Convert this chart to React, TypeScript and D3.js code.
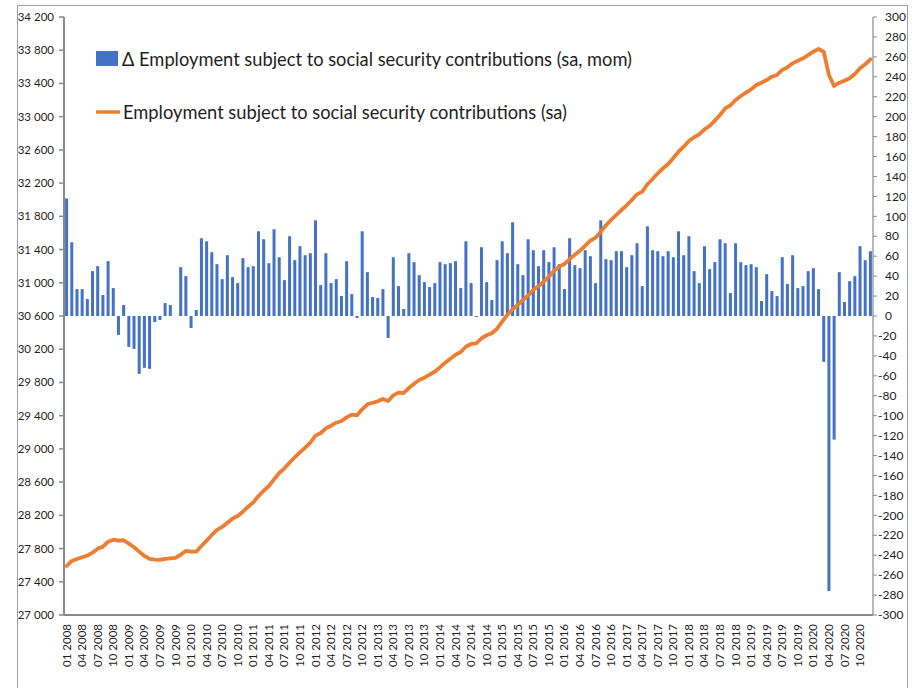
import React from "react";
import * as d3 from "d3";

// ---------- DATA ----------
const startYear = 2008;
const nMonths = 156; // 01 2008 .. 12 2020
const months: string[] = Array.from({ length: nMonths }, (_, i) => {
  const m = (i % 12) + 1;
  const y = startYear + Math.floor(i / 12);
  return `${m < 10 ? "0" + m : m} ${y}`;
});

// Δ Employment (sa, mom), thousands – right axis
const deltaEmployment: number[] = [
  118, 74, 27, 27, 17, 45, 50, 21, 55, 28, -19, 11, -31, -33, -58, -52, -53, -6, -4, 13,
  11, 0, 49, 40, -12, 6, 78, 75, 64, 52, 37, 61, 39, 33, 58, 49, 50, 85, 77, 53,
  87, 59, 36, 80, 56, 70, 61, 63, 96, 31, 63, 33, 37, 20, 55, 22, -2,
  85, 44, 19, 18, 27, -22, 59, 30, 7, 63, 54, 41, 34, 29, 33, 54, 52, 53, 55, 28,
  75, 33, -1, 69, 34, 16, 56, 75, 63, 94, 52, 41, 77, 66, 50, 66, 54, 69, 52, 27,
  78, 51, 48, 66, 60, 33, 96, 57, 56, 65, 65, 49, 61, 73,
  30, 90, 66, 65, 60, 65, 59, 85, 61, 80, 45, 33, 70, 47, 54, 77, 73, 23, 73, 54,
  51, 52, 49, 15, 42, 25, 20, 59, 32, 61, 28, 30, 45, 48, 27, -46, -276, -124, 44, 14,
  35, 40, 70, 56, 65,
];

// Employment subject to social security contributions (sa), thousands – left axis
const employment: number[] = [
  27590, 27651, 27675, 27695, 27715, 27751, 27799, 27823, 27883, 27907,
  27895, 27900, 27859, 27816, 27763, 27711, 27675, 27667, 27663, 27675,
  27683, 27687, 27727, 27771, 27763, 27763, 27831, 27895, 27964, 28024,
  28060, 28111, 28160, 28192, 28244, 28304, 28356, 28432, 28496, 28553,
  28633, 28710,
  28766, 28834, 28899, 28959, 29015, 29075, 29159, 29191, 29248, 29279,
  29315, 29336, 29380, 29412, 29404, 29477, 29537, 29556, 29573, 29601,
  29577, 29645, 29677, 29673, 29733, 29785, 29829, 29857, 29893, 29929,
  29982, 30038, 30086, 30134, 30167, 30230, 30263, 30271, 30332, 30368,
  30392, 30447, 30532, 30615,
  30681, 30732, 30793, 30849, 30913, 30961, 31013, 31073, 31145, 31194,
  31226, 31286, 31338, 31386, 31446, 31507, 31543, 31615, 31692, 31756,
  31816, 31876, 31933, 31997, 32065, 32097, 32186, 32250, 32318, 32378,
  32430, 32502, 32578, 32638, 32707, 32752, 32788, 32848, 32888, 32952,
  33020, 33100, 33135,
  33201, 33249, 33289, 33329, 33381, 33409, 33441, 33481, 33502, 33562,
  33594, 33642, 33674, 33703, 33742, 33782, 33815, 33782, 33502, 33369,
  33409, 33433, 33462, 33514, 33582, 33630, 33691,
];

const leftTicks: number[] = d3.range(27000, 34201, 400);
const rightTicks: number[] = d3.range(-300, 301, 20);
const xTickLabels: string[] = months.filter((_, i) => i % 3 === 0);

const legendBar = "Δ Employment subject to social security contributions (sa, mom)";
const legendLine = "Employment subject to social security contributions (sa)";

// ---------- LAYOUT ----------
const W = 912;
const H = 688;
const plotLeft = 64;
const plotRight = 873;
const plotTop = 17;
const plotBottom = 615;

const BLUE = "#4472C4";
const ORANGE = "#ED7D31";
const AXIS = "#8a8a8a";
const TEXT = "#1e1e1e";
const FONT = "Lato, 'Liberation Sans', sans-serif";

const fmtSpace = d3.formatLocale({
  decimal: ".",
  thousands: " ",
  grouping: [3],
  currency: ["", ""],
}).format(",");

export default function App() {
  const x = d3.scaleBand<string>().domain(months).range([plotLeft, plotRight]).padding(0);
  const yL = d3.scaleLinear().domain([27000, 34200]).range([plotBottom, plotTop]);
  const yR = d3.scaleLinear().domain([-300, 300]).range([plotBottom, plotTop]);
  const bw = x.bandwidth() * 0.58;
  const cx = (m: string) => (x(m) as number) + x.bandwidth() / 2;

  const linePath = d3
    .line<number>()
    .x((_, i) => cx(months[i]))
    .y((d) => yL(d))
    .curve(d3.curveLinear)(employment) as string;

  return (
    <svg
      width={W}
      height={H}
      style={{ position: "absolute", left: 0, top: 0, background: "#fff" }}
      fontFamily={FONT}
    >
      <rect x={0} y={0} width={W} height={H} fill="#fff" />
      <rect x={17.5} y={5.5} width={890} height={720} fill="none" stroke="#a0a0a0" strokeWidth={1} />

      {/* bars */}
      <g>
        {deltaEmployment.map((v, i) => {
          const y0 = yR(0);
          const y1 = yR(v);
          return (
            <rect
              key={i}
              x={cx(months[i]) - bw / 2}
              y={Math.min(y0, y1)}
              width={bw}
              height={Math.abs(y1 - y0)}
              fill={BLUE}
            />
          );
        })}
      </g>

      {/* line */}
      <path d={linePath} fill="none" stroke={ORANGE} strokeWidth={3.8} strokeLinejoin="round" strokeLinecap="round" />

      {/* left axis */}
      <line x1={plotLeft} x2={plotLeft} y1={plotTop} y2={plotBottom} stroke={AXIS} strokeWidth={2} />
      {leftTicks.map((t) => (
        <g key={t}>
          <line x1={plotLeft - 5} x2={plotLeft} y1={yL(t)} y2={yL(t)} stroke={AXIS} strokeWidth={1.5} />
          <text x={54} y={yL(t)} dy="0.35em" textAnchor="end" fontSize={11.5} fill={TEXT}>
            {fmtSpace(t)}
          </text>
        </g>
      ))}

      {/* right axis */}
      <line x1={plotRight} x2={plotRight} y1={plotTop} y2={plotBottom} stroke={AXIS} strokeWidth={1.2} />
      {rightTicks.map((t) => (
        <g key={t}>
          <line x1={plotRight} x2={plotRight + 4} y1={yR(t)} y2={yR(t)} stroke={AXIS} strokeWidth={1} />
          <text x={t < 0 ? 878 : 885} y={yR(t)} dy="0.35em" textAnchor="start" fontSize={12} fill={TEXT}>
            {String(t)}
          </text>
        </g>
      ))}

      {/* bottom axis */}
      <line x1={plotLeft} x2={plotRight} y1={plotBottom} y2={plotBottom} stroke={AXIS} strokeWidth={2.2} />
      {xTickLabels.map((m) => (
        <text
          key={m}
          transform={`translate(${cx(m)},${624}) rotate(-90)`}
          textAnchor="end"
          dy="0.35em"
          fontSize={11.5}
          fill={TEXT}
        >
          {m}
        </text>
      ))}

      {/* legend */}
      <rect x={96} y={51} width={22} height={15} fill={BLUE} />
      <text x={122} y={66} fontSize={19.5} fill={TEXT} textLength={510} lengthAdjust="spacingAndGlyphs">
        {legendBar}
      </text>
      <line x1={96} x2={120} y1={112} y2={112} stroke={ORANGE} strokeWidth={3.5} />
      <text x={123} y={119} fontSize={19.5} fill={TEXT} textLength={444} lengthAdjust="spacingAndGlyphs">
        {legendLine}
      </text>
    </svg>
  );
}
